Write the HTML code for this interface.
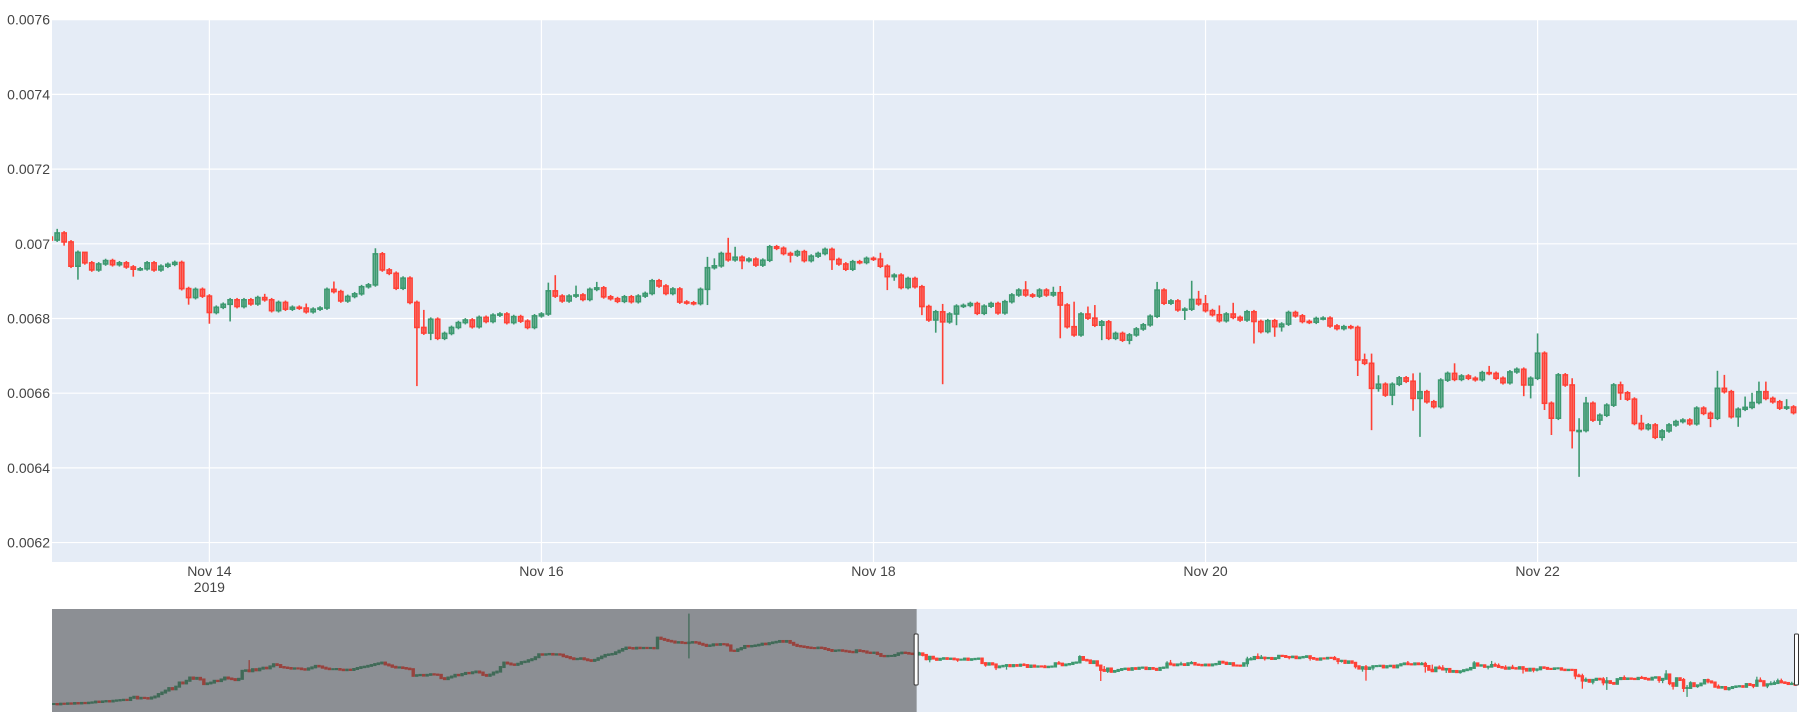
<!DOCTYPE html>
<html><head><meta charset="utf-8"><style>
html,body{margin:0;padding:0;background:#fff;}
svg{display:block;font-family:"Liberation Sans",Arial,sans-serif;}
</style></head><body>
<svg id="chart" width="1814" height="726" viewBox="0 0 1814 726">
<defs><clipPath id="mainClip"><rect x="52" y="20" width="1745" height="542"/></clipPath>
<clipPath id="sliderClip"><rect x="52" y="609" width="1745" height="103"/></clipPath></defs>
<rect x="52" y="20" width="1745" height="542" fill="#E5ECF6"/>
<g id="grid"></g>
<g id="yticks"></g>
<g id="xticks"></g>
<g id="candles" clip-path="url(#mainClip)"></g>
<rect x="52" y="609" width="1745" height="103" fill="#E5ECF6"/>
<g id="slider" clip-path="url(#sliderClip)"></g>
<g id="mask"></g>
</svg>
<script>
// prices in units of 1e-5
const closeEarly = [
625.5,625,626,625.8,626.5,626,627,626.4,627.2,626.8,
627.5,628,629.2,628.6,629.5,630,629.4,630.5,631,631.5,
632,631.6,635,636.6,634,635,634.6,633.8,635.5,637,
640.7,643,646,649.8,648,652,658.4,657,661,666,
664,665.5,663,655.9,657,658.2,661,660.5,663,666,
664.5,663.5,662,664,676.2,677,675.5,678.7,677,679.5,
681,680,683,686.3,685,682,681.2,680.5,679.5,680,
679.8,678.7,678,680,681.5,683.8,682.9,681,679.6,678.7,
678.7,679,678,677.2,678,677.5,679,680.5,681.8,682.5,
683.8,685,686.5,687.6,688.8,686,684.5,682.4,681.2,681.5,
680.5,679.6,678.7,668.6,669.5,670,668.9,670.1,671,670.5,
670.1,665,663.5,666,667.5,670.1,669.4,671.3,673,672.5,
674,675.2,673.6,670,668.6,670.5,673.6,675,682,688.8,
687.4,686,685.3,687,689.5,690.2,692.4,694,697,701.5,
700.8,701.5,702,701,701.5,700.9,698.5,697.2,695.4,694,
694.5,695.4,693.8,692.4,691.4,693,695.5,698,700.5,701.2,
702,704.5,707,709.5,711.7,711,710.2,711.5,710.8,711.3,
710.9,711.2,710.6,726.9,725,723.5,722,721,719.3,720,
719,718.5,719.3,720.1,719.3,717.5,716,714.2,715,716.7,
716,717,716.7,715,707,706.6,709,711,714.2,713.5,
714.2,715,716,717.7,716.8,718.5,719.6,720.5,721.8,720.6,
721.8,719,716,714.2,713.5,712.6,711.7,711,710.8,711.7,
711,709.5,708,706.6,707.2,707.6,706.8,706,705.2,704.6,
707.6,706.5,705.8,704,703.5,704,701.8,699,698.5,699,
699,700.5,703,704,703.5,702.5,701.8];
const closeMain = [
701,702.9,700.5,694,697.7,694.9,693,694.6,695.5,694.4,694.9,693.8,693.2,693.3,694.9,693,694,694.5,695,688,685.6,687.8,686,
681.6,683,683.8,685,683.2,685,683.9,685.6,685,682.1,684.3,682.5,683,682.8,681.8,682.5,682.8,687.8,687.2,684.7,685.9,686.6,688.5,689,
697.3,693,692.1,688.1,690.8,684.3,677.6,676.1,679.8,674.7,676,677.6,678.9,679.6,677.8,680.3,679.2,680.9,681.2,678.9,680.5,679.3,677.6,680.7,
681.2,687.4,686,684.7,686,686.3,685.1,687.8,688.2,685.8,685.3,684.6,685.8,684.5,686,686.7,690.1,688.7,686.7,687.9,684.4,684.2,684,687.8,
693.6,694.1,697.4,695.7,696.4,695.5,695.9,694.3,695.6,699.2,698.8,697.4,697,697.9,695.5,696.7,697.4,698.5,695.8,694.6,693.2,695.2,695,696.1,
695.9,694,691.2,691.6,688.3,690.7,688.5,683.2,679.6,681.8,679.1,681.2,683.3,683.5,684,681.4,683.3,684,681.5,684.5,686.3,687.6,686.3,686,
687.6,686.3,686.9,683.6,677.8,675.6,681.2,680.1,678.2,679.1,674.7,676,674.2,675.6,677.2,678.3,680.6,687.6,684.1,684.7,682.3,682.5,685.1,683.9,
682.1,681,679.4,681.2,680.3,679.6,681.8,679.2,676.5,679.4,677.8,678.5,681.6,680.7,679.2,679,680,680.1,678,677.3,677.8,677.6,668.9,668,
661.3,662.4,659.5,662.4,664.1,663.2,658.6,660.4,657.7,656.4,663.5,665.3,663.7,664.6,664,663.6,665.5,665.3,664,662.8,665.7,666.4,662.2,664,
670.7,657.3,653.3,664.9,662.2,650,650,657.3,652.8,654.1,656.8,662.2,660.1,658.4,651.9,650.5,651.5,648.2,649.9,651.5,652.4,652.8,651.8,656,
654.6,653.3,661.3,660.4,653.7,655.7,656.2,657.5,660.4,658.6,657.7,656,656.3,654.8];
// sparse wick extremes: [hour offset from Nov 14 00:00, value]
const highPts = [[-22,704],[-18,695.5],[8,686.6],[14,684],[18,689.9],[24,698.8],[31,682.3],[49,689.6],[50,691.6],[53,688.8],[56,689.8],
[72,696.5],[73,696.1],[75,701.6],[76,699.2],[97,697.6],[106,683.9],[118,690],[122,688.5],[123,688.7],[125,684.5],[127,683.2],[128,683.6],
[137,689.8],[142,690.1],[143,687.4],[144,686.3],[146,683.5],[148,684.2],[167,670.6],[168,670.6],[169,664.8],[174,665.3],[175,665.5],
[180,668],[185,667.3],[192,676],[197,664],[198,653.3],[199,659],[204,663.1],[207,654.2],[218,666],[219,664.9],[222,659.1],[223,660.1],
[224,663.1],[225,663.1],[228,658.4],[-214,691.4],[-88,762.4]];
const lowPts = [[-21,699.5],[-20,693.5],[-19,690.4],[-11,691.2],[-3,683.7],[0,678.6],[3,679.2],[30,661.9],[32,674.2],[72,683.6],[77,693.2],
[84,695],[90,693],[98,687.6],[99,690.1],[103,680.9],[105,676.2],[106,662.4],[108,678.2],[123,674.7],[129,674.2],[133,673.1],[141,679.6],
[151,673.3],[154,675.1],[155,676.5],[166,664.6],[168,650.1],[169,660.4],[171,656.8],[174,655.3],[175,648.3],[190,659.2],[191,658.6],
[193,655.5],[194,648.8],[197,645.2],[198,637.6],[201,651.5],[204,658.2],[210,647.3],[217,650.9],[221,651],[-88,696.4]];
const yTicks = [0.0062,0.0064,0.0066,0.0068,0.007,0.0072,0.0074,0.0076];
const yTickLabels = ['0.0062','0.0064','0.0066','0.0068','0.007','0.0072','0.0074','0.0076'];
const xTickHours = [0,48,96,144,192];
const xTickLabels = ['Nov 14','Nov 16','Nov 18','Nov 20','Nov 22'];
const firstHour = -270; // Nov 2 2019 18:00 relative to Nov 14 00:00

const NS='http://www.w3.org/2000/svg';
function mk(tag,attrs,parent){const e=document.createElementNS(NS,tag);for(const k in attrs)e.setAttribute(k,attrs[k]);parent.appendChild(e);return e;}
const close = closeEarly.concat(closeMain);
const N = close.length;
const open = close.map((c,i)=> i===0?c:close[i-1]);
const high = close.map((c,i)=>Math.max(c,open[i]));
const low = close.map((c,i)=>Math.min(c,open[i]));
const hasH = new Array(N).fill(false), hasL = new Array(N).fill(false);
highPts.forEach(p=>{const i=p[0]-firstHour;if(i>=0&&i<N){high[i]=Math.max(high[i],p[1]);hasH[i]=true;}});
lowPts.forEach(p=>{const i=p[0]-firstHour;if(i>=0&&i<N){low[i]=Math.min(low[i],p[1]);hasL[i]=true;}});

const tMin=-22.75,tMax=229.5,xL=52,xR=1797,yT=19.7,yB=562,pTop=760,pBot=614.8;
const xMain=t=>xL+(t-tMin)*(xR-xL)/(tMax-tMin);
const yMain=p=>yT+(pTop-p)*(yB-yT)/(pTop-pBot);
const grid=document.getElementById('grid'),yt=document.getElementById('yticks'),xt=document.getElementById('xticks');
yTicks.forEach((v,k)=>{const y=yMain(v*1e5);
  const g=mk('line',{x1:xL,x2:xR,y1:y,y2:y,stroke:'#fff','stroke-width':1.2},grid);
  
  
  const t=mk('text',{x:50,y:y+5,'text-anchor':'end','font-size':14,fill:'#444'},yt);t.textContent=yTickLabels[k];
  
  
});
xTickHours.forEach((h,k)=>{const x=xMain(h);
  const g=mk('line',{x1:x,x2:x,y1:20,y2:562,stroke:'#fff','stroke-width':1.2},grid);
  
  
  const t=mk('text',{x:x,y:576,'text-anchor':'middle','font-size':14,fill:'#444'},xt);t.textContent=xTickLabels[k];
  
  
  if(k===0){const t2=mk('text',{x:x,y:592,'text-anchor':'middle','font-size':14,fill:'#444'},xt);t2.textContent='2019';
    
    }
});
const UP='#3D9970',DN='#FF4136';
const cg=document.getElementById('candles');
for(let i=0;i<N;i++){const t=i+firstHour;if(t<-24)continue;
  const x=xMain(t);const up=close[i]>=open[i];const col=up?UP:DN;
  const hi=hasH[i]?high[i]:high[i]+0.5, lo=hasL[i]?low[i]:low[i]-0.5;
  const g=mk('g',{},cg);
  
  
  mk('line',{x1:x,x2:x,y1:yMain(hi),y2:yMain(lo),stroke:col,'stroke-width':1.6},g);
  const yt1=yMain(Math.max(open[i],close[i])),yb1=yMain(Math.min(open[i],close[i]));
  mk('rect',{x:x-2.1,y:yt1,width:4.2,height:Math.max(yb1-yt1,1),fill:col,'fill-opacity':0.5,stroke:col,'stroke-width':1.6},g);
}
const sL=52,sR=1797,sT=609,sB=712;
const tsMin=firstHour-0.5,tsMax=229.5;
let mn=Infinity,mx=-Infinity;for(let i=0;i<N;i++){mn=Math.min(mn,low[i]);mx=Math.max(mx,high[i]);}
const sp0=mn-(mx-mn)*0.085,sp1=mx+(mx-mn)*0.06;
const xS=t=>sL+(t-tsMin)*(sR-sL)/(tsMax-tsMin);
const yS=p=>sT+(sp1-p)*(sB-sT)/(sp1-sp0);
const sg=document.getElementById('slider');
for(let i=0;i<N;i++){const t=i+firstHour;const x=xS(t);const up=close[i]>=open[i];const col=up?UP:DN;
  const l=mk('line',{x1:x,x2:x,y1:yS(high[i])-0.8,y2:yS(low[i])+0.8,stroke:col,'stroke-width':1.3},sg);
  
  
  const a=yS(Math.max(open[i],close[i])),b=yS(Math.min(open[i],close[i]));
  mk('rect',{x:x-1.7,y:a-1,width:3.4,height:Math.max(b-a,0)+2,fill:col},sg);
}
const mg=document.getElementById('mask');
const selL=xS(tMin),selR=xS(tMax);
const m=mk('rect',{x:sL,y:sT,width:selL-sL,height:sB-sT,fill:'#444','fill-opacity':0.55},mg);


[selL,selR].forEach((x,k)=>{const h=mk('rect',{x:x-2.5,y:634,width:4,height:51,fill:'#fff',stroke:'#333','stroke-width':1,rx:1},mg);
  
  });
</script>
</body></html>
